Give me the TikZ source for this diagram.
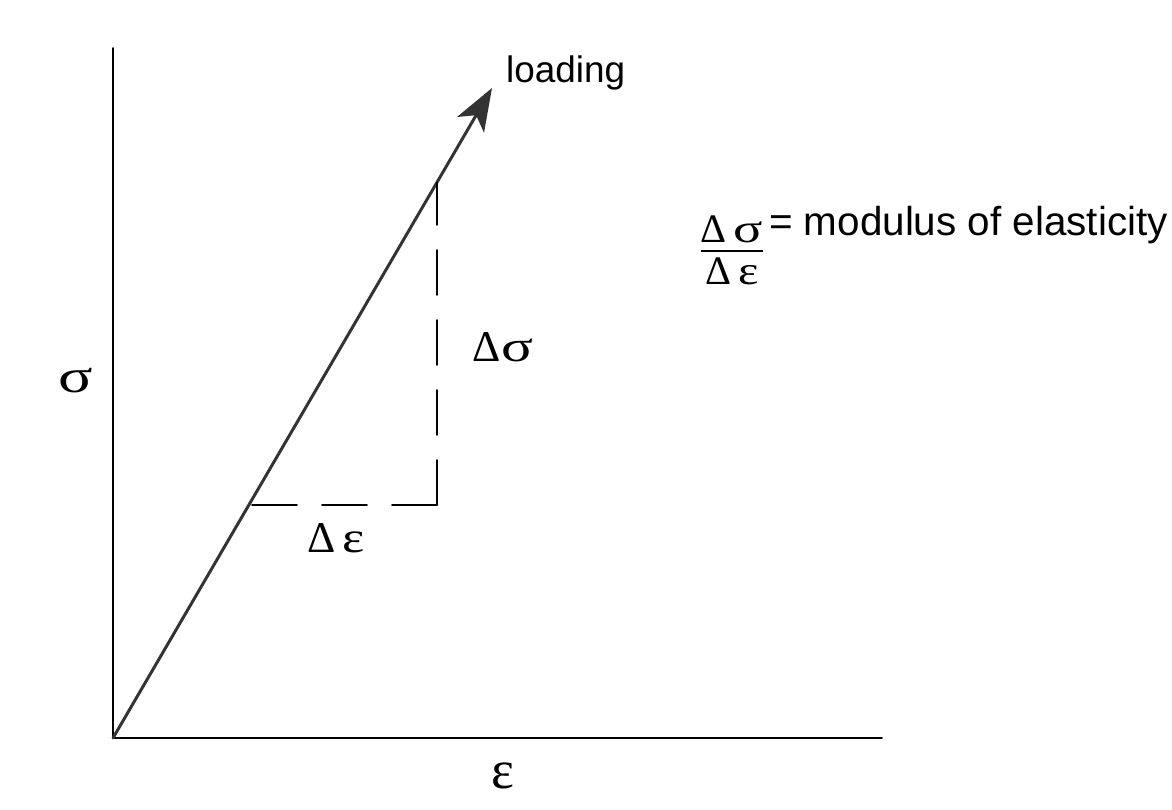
\documentclass[tikz,border=0pt]{standalone}
\usepackage{fontspec}
\setmainfont{Liberation Sans}
\newfontfamily\greekfont{Liberation Serif}
\usetikzlibrary{arrows.meta}

% wider sigma and epsilon, as in the printed figure
\newcommand{\gsig}{\scalebox{1.35}[1]{σ}}
\newcommand{\geps}{\scalebox{1.2}[1]{ε}}

\tikzset{
  greeklbl/.style={font=\greekfont\fontsize{25}{28}\selectfont},
  sanslbl/.style={font=\fontsize{21}{25}\selectfont},
}

\begin{document}
\begin{tikzpicture}[line cap=round,line join=round,>={Stealth[length=0.85cm,width=0.62cm,inset=0.22cm]},every node/.style={inner sep=1pt}]
  \useasboundingbox (0,0) rectangle (23.44,16.18);
  \coordinate (O) at (2.26,1.42);
  \coordinate (Y) at (2.26,15.22);
  \coordinate (X) at (17.64,1.42);
  \coordinate (T) at (9.84,14.42);
  \coordinate (A) at (4.98,6.08);
  \coordinate (C) at (8.74,6.08);
  \coordinate (B) at (8.74,12.53);
  \draw[line width=1.1pt] (Y) -- (O) -- (X);
  \draw[->,line width=1.7pt,black!80] (O) -- (T);
  \draw[line width=0.9pt,dash pattern=on 0.9cm off 0.5cm] (C) -- (A);
  \draw[line width=0.9pt,dash pattern=on 0.9cm off 0.5cm] (C) -- (B);
  \node[greeklbl,font=\greekfont\fontsize{27}{30}\selectfont] (sig) at (1.52,8.56) {\gsig};
  \node[greeklbl,font=\greekfont\fontsize{31}{34}\selectfont] (eps) at (10.06,0.66) {ε};
  \node[greeklbl] (dsig) at (10.06,9.24) {Δ\gsig};
  \node[greeklbl] (deps) at (6.72,5.42) {Δ\,\geps};
  \node[sanslbl,anchor=base west] (load) at (10.08,14.52) {loading};
  % the quotient, set as a one-column table with a rule
  \node[font=\greekfont\fontsize{23}{26}\selectfont,inner sep=0pt,anchor=base] (frac) at (14.64,11.34)
    {\setlength{\arrayrulewidth}{1.1pt}\renewcommand{\arraystretch}{0.6}%
     \begin{tabular}[t]{@{}c@{}}Δ\,\gsig\\\hline\rule{0pt}{18.5pt}Δ\,\geps\end{tabular}};
  \node[font=\fontsize{23}{26}\selectfont,anchor=base west] (mod) at (15.34,11.48) {= modulus of elasticity};
\end{tikzpicture}
\end{document}
